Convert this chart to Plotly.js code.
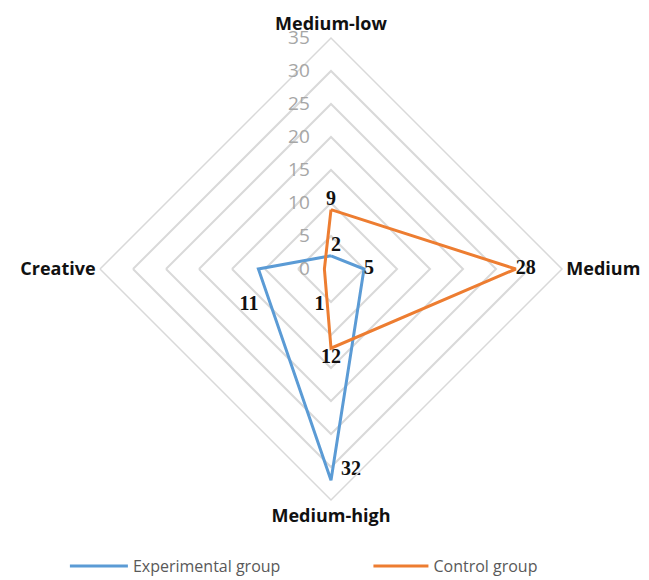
<!DOCTYPE html>
<html><head><meta charset="utf-8">
<script src="https://cdn.plot.ly/plotly-3.0.1.min.js"></script>
<style>body{margin:0;background:#fff}#c{width:649px;height:580px}</style>
</head><body><div id="c"></div>
<script>
const categories = ["Medium-low", "Medium", "Medium-high", "Creative"];
const experimental = [2, 5, 32, 11];
const control = [9, 28, 12, 1];
const expLabels = ["2", "5", "\u00a0\u00a032", "<br>11"];
const ctlLabels = ["9", "28", "12", "<br>1"];
const expPos = ["top right", "middle right", "top right", "bottom left"];
const ctlPos = ["top center", "middle right", "bottom center", "bottom left"];
const radialTicks = [0, 5, 10, 15, 20, 25, 30, 35];

function closed(a){ return a.concat([a[0]]); }
const theta = closed(categories);

const labelFont = {family: "Liberation Serif", size: 20, color: "#111", weight: "bold"};
const legendFont = {family: "Open Sans", size: 16, color: "#595959"};

const traces = [
  {type: "scatterpolar", name: "Experimental group", r: closed(experimental), theta: theta,
   mode: "lines+text", text: expLabels.concat([""]), textposition: closed(expPos),
   textfont: labelFont, line: {color: "#5B9BD5", width: 3}, cliponaxis: false, legend: "legend"},
  {type: "scatterpolar", name: "Control group", r: closed(control), theta: theta,
   mode: "lines+text", text: ctlLabels.concat([""]), textposition: closed(ctlPos),
   textfont: labelFont, line: {color: "#ED7D31", width: 3}, cliponaxis: false, legend: "legend2"}
];

const layout = {
  width: 649, height: 580,
  margin: {l: 100, r: 87, t: 38, b: 80, autoexpand: false},
  paper_bgcolor: "#fff",
  showlegend: true,
  legend: {orientation: "h", xref: "container", yref: "container", x: 0.1, y: 0.024,
           xanchor: "left", yanchor: "middle", font: legendFont, itemwidth: 58},
  legend2: {orientation: "h", xref: "container", yref: "container", x: 0.5677, y: 0.024,
           xanchor: "left", yanchor: "middle", font: legendFont, itemwidth: 55},
  polar: {
    bgcolor: "#fff",
    gridshape: "linear",
    domain: {x: [0, 1], y: [0, 1]},
    radialaxis: {range: [0, 35], tickvals: radialTicks, angle: 90, side: "counterclockwise",
      tickangle: 90, showline: false, ticks: "outside", ticklen: 14, tickcolor: "rgba(0,0,0,0)",
      gridcolor: "#D9D9D9", gridwidth: 1.5,
      tickfont: {family: "Open Sans", size: 19, color: "#A6A6A6"}},
    angularaxis: {rotation: 90, direction: "clockwise", showgrid: false, showline: true,
      linecolor: "#D9D9D9", linewidth: 1.5, ticks: "",
      tickfont: {family: "Open Sans", size: 18, color: "#111", weight: "bold"}}
  }
};
Plotly.newPlot("c", traces, layout, {displayModeBar: false});
</script></body></html>
